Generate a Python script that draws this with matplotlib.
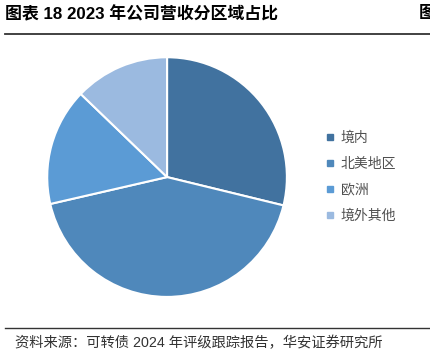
import matplotlib
matplotlib.use("Agg")
import matplotlib.pyplot as plt
from matplotlib.lines import Line2D

plt.rcParams['font.family'] = ['Liberation Sans', 'Noto Sans CJK SC', 'DejaVu Sans']

regions = ["境内", "北美地区", "欧洲", "境外其他"]
shares = [28.8, 42.6, 15.8, 12.8]
colors = ["#41729f", "#4f88bb", "#5b9bd5", "#9bbae0"]

title = "图表 18 2023 年公司营收分区域占比"
source = "资料来源：可转债 2024 年评级跟踪报告，华安证券研究所"

fig = plt.figure(figsize=(4.3, 3.64), dpi=100)

ax = fig.add_axes([0.107, 0.181, 0.563, 0.665])
wedges, _ = ax.pie(shares, colors=colors, startangle=90, counterclock=False,
                   wedgeprops=dict(edgecolor="white", linewidth=1.5))
ax.set_xlim(-1.01, 1.01)
ax.set_ylim(-1.01, 1.01)
ax.set_aspect("equal")

handles = [Line2D([], [], marker="s", linestyle="", markersize=4,
                  markerfacecolor=c, markeredgecolor=c) for c in colors]
fig.legend(handles, regions, loc="upper left", bbox_to_anchor=(0.728, 0.674),
           frameon=False, fontsize=10, handlelength=0.6, handletextpad=0.5,
           labelspacing=0.85, labelcolor="#505050")

fig.text(0.012, 0.962, title, fontsize=12.2, fontweight="bold", va="center")
fig.text(0.975, 0.962, "图", fontsize=12.2, fontweight="bold", va="center")
fig.add_artist(Line2D([0.012, 1.0], [0.907, 0.907], color="#333333", linewidth=1.3))
fig.add_artist(Line2D([0.012, 1.0], [0.099, 0.099], color="#333333", linewidth=1.0))
fig.text(0.035, 0.058, source, fontsize=10.3, color="#333333", va="center")

fig.savefig("out.png", dpi=100)
